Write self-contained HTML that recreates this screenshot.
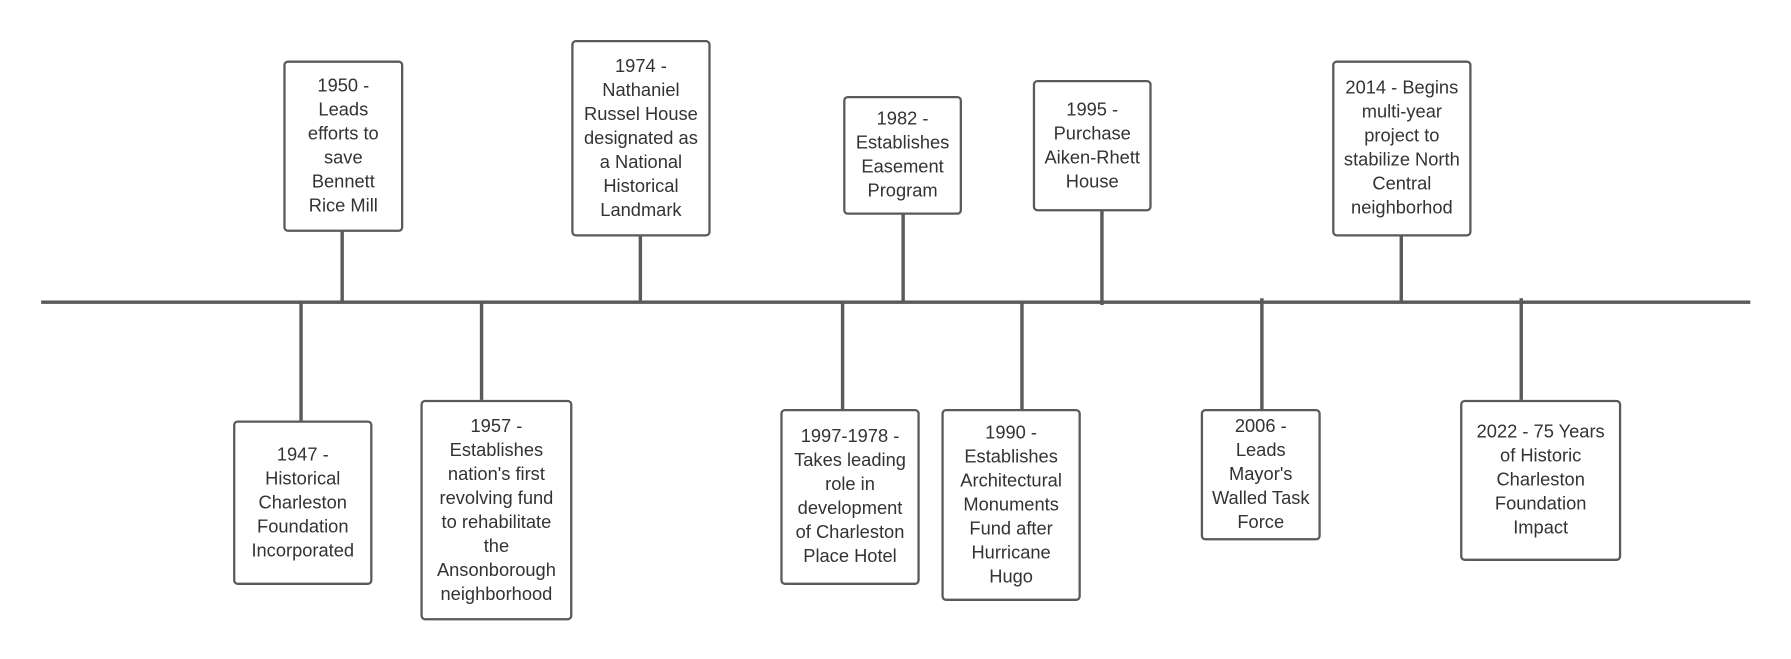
<!DOCTYPE html>
<html><head><style>
html,body{margin:0;padding:0;background:#fff;width:1791px;height:659px;overflow:hidden}
#w{position:absolute;left:0;top:0;width:1560px;height:574px;transform:scale(1.1425);transform-origin:0 0}
.b{position:absolute;box-sizing:border-box;border:2.5px solid #5a5a5a;border-radius:4px;display:flex;align-items:center;justify-content:center;text-align:center;font-family:"Liberation Sans",sans-serif;font-size:16px;line-height:21px;color:#333;background:#fff}
.l{position:absolute;background:#5a5a5a}
</style></head><body><div id="w">
<div class="l" style="left:36px;top:262.5px;width:1496px;height:3px"></div>
<div class="l" style="left:298px;top:202px;width:2.5px;height:62px"></div>
<div class="l" style="left:559px;top:206px;width:2.5px;height:58px"></div>
<div class="l" style="left:789px;top:187px;width:2.5px;height:77px"></div>
<div class="l" style="left:963px;top:184px;width:2.5px;height:83px"></div>
<div class="l" style="left:1225px;top:206px;width:2.5px;height:58px"></div>
<div class="l" style="left:262px;top:264px;width:2.5px;height:104px"></div>
<div class="l" style="left:420px;top:264px;width:2.5px;height:86px"></div>
<div class="l" style="left:736px;top:264px;width:2.5px;height:94px"></div>
<div class="l" style="left:893px;top:264px;width:2.5px;height:94px"></div>
<div class="l" style="left:1103px;top:261px;width:2.5px;height:97px"></div>
<div class="l" style="left:1330px;top:261px;width:2.5px;height:89px"></div>

<div class="b" style="left:248px;top:53px;width:105px;height:150px">1950 -<br>Leads<br>efforts to<br>save<br>Bennett<br>Rice Mill</div>
<div class="b" style="left:500px;top:35px;width:122px;height:172px">1974 -<br>Nathaniel<br>Russel House<br>designated as<br>a National<br>Historical<br>Landmark</div>
<div class="b" style="left:738px;top:84px;width:104px;height:104px">1982 -<br>Establishes<br>Easement<br>Program</div>
<div class="b" style="left:904px;top:70px;width:104px;height:115px">1995 -<br>Purchase<br>Aiken-Rhett<br>House</div>
<div class="b" style="left:1166px;top:53px;width:122px;height:154px">2014 - Begins<br>multi-year<br>project to<br>stabilize North<br>Central<br>neighborhod</div>
<div class="b" style="left:204px;top:368px;width:122px;height:144px">1947 -<br>Historical<br>Charleston<br>Foundation<br>Incorporated</div>
<div class="b" style="left:368px;top:350px;width:133px;height:193px">1957 -<br>Establishes<br>nation's first<br>revolving fund<br>to rehabilitate<br>the<br>Ansonborough<br>neighborhood</div>
<div class="b" style="left:683px;top:358px;width:122px;height:154px">1997-1978 -<br>Takes leading<br>role in<br>development<br>of Charleston<br>Place Hotel</div>
<div class="b" style="left:824px;top:358px;width:122px;height:168px">1990 -<br>Establishes<br>Architectural<br>Monuments<br>Fund after<br>Hurricane<br>Hugo</div>
<div class="b" style="left:1051px;top:358px;width:105px;height:115px">2006 -<br>Leads<br>Mayor's<br>Walled Task<br>Force</div>
<div class="b" style="left:1278px;top:350px;width:141px;height:141px">2022 - 75 Years<br>of Historic<br>Charleston<br>Foundation<br>Impact</div>
</div></body></html>
